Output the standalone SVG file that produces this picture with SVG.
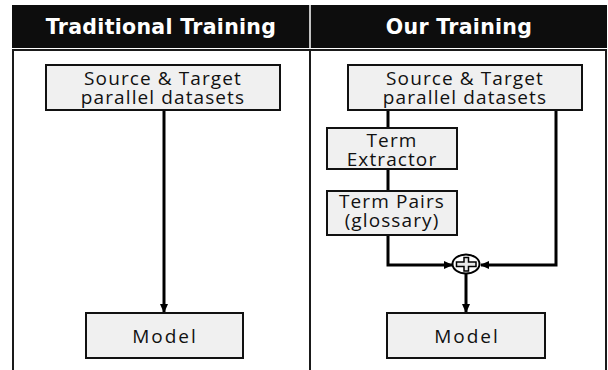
<svg xmlns="http://www.w3.org/2000/svg" width="608" height="370" viewBox="0 0 608 370">
<style>
.hdr{fill:#0d0d0d}
.htxt{font-family:"DejaVu Sans",sans-serif;font-weight:bold;font-size:20.5px;fill:#fff;text-anchor:middle;letter-spacing:0.3px}
.box{fill:#f0f0f0;stroke:#111;stroke-width:2}
.txt{font-family:"Open Sans",sans-serif;font-size:19px;fill:#111;text-anchor:middle;letter-spacing:1.1px}
.wide{letter-spacing:2px}
.con{fill:none;stroke:#000;stroke-width:3}
.frame{fill:none;stroke:#1a1a1a;stroke-width:2}
</style>
<defs>
<marker id="ah" markerWidth="10" markerHeight="10" refX="8" refY="5" orient="auto" markerUnits="userSpaceOnUse">
<path d="M0,1 L9,5 L0,9 Z" fill="#000"/>
</marker>
</defs>
<rect width="608" height="370" fill="#fff"/>
<g id="header">
<rect class="hdr" x="12" y="5" width="595" height="43"/>
<line x1="310" y1="5" x2="310" y2="48" stroke="#fff" stroke-width="1.5"/>
<text class="htxt" x="161" y="34">Traditional Training</text>
<text class="htxt" x="459" y="34">Our Training</text>
</g>
<g id="frame">
<path class="frame" d="M13,370 V50 H606 V370"/>
<line class="frame" x1="310" y1="50" x2="310" y2="370"/>
</g>
<g id="connectors">
<line class="con" x1="164" y1="111" x2="164" y2="312" marker-end="url(#ah)"/>
<line class="con" x1="388" y1="111" x2="388" y2="128"/>
<line class="con" x1="388" y1="169" x2="388" y2="191"/>
<polyline class="con" points="388,235 388,265 452,265" marker-end="url(#ah)"/>
<polyline class="con" points="556,111 556,265 481,265" marker-end="url(#ah)"/>
<line class="con" x1="466" y1="274" x2="466" y2="312" marker-end="url(#ah)"/>
</g>
<g id="left-source">
<rect class="box" x="46" y="65" width="234" height="45"/>
<text class="txt" x="163" y="85">Source &amp; Target</text>
<text class="txt" x="163" y="104">parallel datasets</text>
</g>
<g id="left-model">
<rect class="box" x="86" y="313" width="157" height="45"/>
<text class="txt wide" x="165" y="343">Model</text>
</g>
<g id="right-source">
<rect class="box" x="348" y="65" width="234" height="45"/>
<text class="txt" x="465" y="85">Source &amp; Target</text>
<text class="txt" x="465" y="104">parallel datasets</text>
</g>
<g id="term-extractor">
<rect class="box" x="327" y="128" width="130" height="41"/>
<text class="txt" x="392" y="147">Term</text>
<text class="txt" x="392" y="166">Extractor</text>
</g>
<g id="term-pairs">
<rect class="box" x="327" y="191" width="130" height="44"/>
<text class="txt" x="392" y="208">Term Pairs</text>
<text class="txt" x="392" y="227">(glossary)</text>
</g>
<g id="plus">
<ellipse cx="466" cy="264" rx="13.5" ry="9.5" fill="#fff" stroke="#000" stroke-width="2"/>
<path d="M464,257.5 H468.5 V262 H476 V266.5 H468.5 V271 H464 V266.5 H456.5 V262 H464 Z" fill="#e8e8e8" stroke="#000" stroke-width="1.5"/>
</g>
<g id="right-model">
<rect class="box" x="387" y="313" width="158" height="45"/>
<text class="txt wide" x="467" y="343">Model</text>
</g>
</svg>
